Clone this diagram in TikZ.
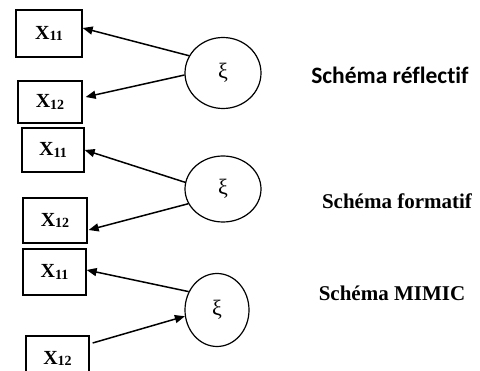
\documentclass[tikz,border=0pt]{standalone}
\usepackage{fontspec}
\setmainfont{Liberation Serif}
\newfontfamily\carlito[Ligatures={NoCommon,NoRare}]{Carlito}
\usetikzlibrary{shapes.geometric,arrows.meta}
\tikzset{
  varbox/.style={draw, line width=1.3pt, inner sep=0pt, font=\bfseries\fontsize{20}{22}\selectfont},
  latent/.style={draw, ellipse, line width=1.2pt, inner sep=0pt, font=\fontsize{22}{24}\selectfont},
  arr/.style={line width=1.5pt, -{Triangle[length=10pt,width=8pt]}},
  lab/.style={font=\bfseries\fontsize{21}{23}\selectfont, inner sep=0pt},
}
\newcommand{\xsub}[1]{X\raisebox{-1.5pt}{\fontsize{14}{16}\selectfont #1}}
\begin{document}
\begin{tikzpicture}[x=1pt,y=-1pt]
\useasboundingbox (0,0) rectangle (480,371);
% block 1
\node[varbox, minimum width=66pt, minimum height=47pt] (x11a) at (49,33.5) {\xsub{11}};
\node[varbox, minimum width=64pt, minimum height=42pt] (x12a) at (50,102) {\xsub{12}};
\node[latent, minimum width=76pt, minimum height=71pt] (c1) at (223,73) {ξ};
\draw[arr] (c1.153) -- ([yshift=5.5pt]x11a.east);
\draw[arr] (c1.183) -- ([xshift=3pt,yshift=5pt]x12a.east);
\node[lab, font=\carlito\bfseries\fontsize{23.5}{25}\selectfont] (l1) at (390,75.5) {Schéma réflectif};
% block 2
\node[varbox, minimum width=62pt, minimum height=44pt] (x11b) at (53,150) {\xsub{11}};
\node[varbox, minimum width=64pt, minimum height=45pt] (x12b) at (55,220.5) {\xsub{12}};
\node[latent, minimum width=76pt, minimum height=66pt] (c2) at (223,189) {ξ};
\draw[arr] (c2.170) -- (x11b.east);
\draw[arr] (c2.203) -- ([xshift=1pt,yshift=-9.5pt]x12b.east);
\node[lab] (l2) at (397,201) {Schéma formatif};
% block 3
\node[varbox, minimum width=63pt, minimum height=46pt] (x11c) at (54.5,272) {\xsub{11}};
\node[varbox, minimum width=63pt, minimum height=45pt] (x12c) at (57.5,358.5) {\xsub{12}};
\node[latent, minimum width=64pt, minimum height=73pt] (c3) at (217,310) {ξ};
\draw[arr] (c3.147) -- ([yshift=2pt]x11c.east);
\draw[arr] ([xshift=3pt,yshift=15.5pt]x12c.east) -- (c3.191);
\node[lab] (l3) at (392,293) {Schéma MIMIC};
\end{tikzpicture}
\end{document}
